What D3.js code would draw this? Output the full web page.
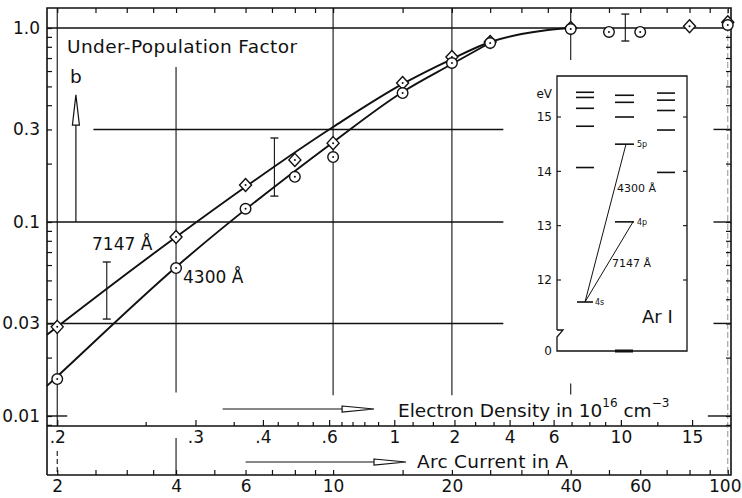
<!DOCTYPE html>
<html>
<head>
<meta charset="utf-8">
<script src="https://cdn.jsdelivr.net/npm/d3@7"></script>
<style>
  html, body { margin: 0; padding: 0; background: #fff; }
  svg { display: block; font-family: "DejaVu Sans", sans-serif; }
</style>
</head>
<body>
<svg id="chart" width="742" height="498"></svg>
<script>
// ---- measured under-population factor b versus arc current (A) ----
const current7147 = [2, 4, 6, 8, 10, 15, 20, 25, 40, 80, 100];
const factor7147  = [0.0288, 0.0837, 0.155, 0.209, 0.255, 0.521, 0.709, 0.847, 1.0, 1.02, 1.07];
const current4300 = [2, 4, 6, 8, 10, 15, 20, 25, 40, 50, 60, 100];
const factor4300  = [0.0155, 0.0579, 0.117, 0.171, 0.216, 0.462, 0.660, 0.837, 0.988, 0.954, 0.954, 1.036];

// ---- smoothed curves through the measurements ----
const fitCurrent7147 = [1.884, 2, 4, 10, 15, 20, 25, 30, 35, 40];
const fitFactor7147  = [0.0262, 0.0288, 0.0837, 0.309, 0.515, 0.692, 0.847, 0.931, 0.977, 1.0];
const fitCurrent4300 = [1.884, 2, 4, 10, 15, 20, 25];
const fitFactor4300  = [0.0143, 0.0160, 0.0586, 0.258, 0.468, 0.652, 0.84];

// ---- representative error bars ----
const errCurrent = [2.67, 7.1, 55];
const errLow     = [0.0316, 0.136, 0.857];
const errHigh    = [0.0622, 0.271, 1.18];

// ---- axes ----
const factorTicks  = [1, 0.3, 0.1, 0.03, 0.01];
const factorLabels = ["1.0", "0.3", "0.1", "0.03", "0.01"];
const currentTicks  = [2, 2.5, 3, 3.5, 4, 5, 6, 7, 8, 9, 10, 15, 20, 25, 30, 35, 40, 50, 60, 70, 80, 90, 100];
const currentLabels = [2, 4, 6, 10, 20, 40, 60, 100];
// electron density (10^16 cm^-3) reached at a given arc current
const densityLabels    = [".2", ".3", ".4", ".6", "1", "2", "4", "6", "10", "15"];
const densityAtCurrent = [2.0, 4.48, 6.64, 9.77, 14.29, 20.3, 28.0, 36.2, 53.6, 81.2];
const densityMinorAtCurrent = [3.35, 5.6, 7.24, 8.13, 8.88, 10.5, 11.2, 12.0, 13.0, 15.9, 17.9, 22.9, 25.5, 32.1, 40.2, 44.6, 48.9, 66.3];

// ---- Ar I term diagram (eV) ----
const levelsCol1 = [15.455, 15.36, 15.16, 14.83, 14.07];
const levelsCol2 = [15.40, 15.27, 15.0, 14.50, 13.07];
const levelsCol3 = [15.44, 15.31, 15.12, 14.76, 13.98];
const level4s = 11.595, level4p = 13.07, level5p = 14.50;
const energyTicks = [12, 13, 14, 15];

const svg = d3.select("#chart");
const ink = "#111";

// frame geometry
const L = 47, R = 731, T = 8, B1 = 426, B2 = 475;

const x = d3.scaleLog().domain([1.884, 101.9]).range([L, R]);
const y = d3.scaleLog().domain([0.00888, 1.268]).range([B1, T]);

const g = svg.append("g").attr("stroke-linecap", "butt");

// ---- frame ----
g.append("path")
  .attr("d", `M${L},${B2}V${T}H${R}V${B2}H${L}M${L},${B1}H${R}`)
  .attr("fill", "none").attr("stroke", ink).attr("stroke-width", 1.6);

// ---- grid lines ----
const hGrid = [
  [1.0, 1.884, 101.9],
  [0.3, 2.47, 27.0], [0.3, 92, 101.9],
  [0.1, 1.884, 27.0], [0.1, 92, 101.9],
  [0.03, 1.884, 27.0], [0.03, 92, 101.9],
  [0.01, 1.884, 2.12], [0.01, 89, 101.9]
];
g.selectAll(".hgrid").data(hGrid).join("line")
  .attr("x1", d => x(d[1])).attr("x2", d => x(d[2]))
  .attr("y1", d => y(d[0])).attr("y2", d => y(d[0]))
  .attr("stroke", ink).attr("stroke-width", 1.4);

const vGrid = [
  [2, 1.268, 0.00888], [4, 0.63, 0.0132], [10, 1.268, 0.0128],
  [20, 1.268, 0.0128], [40, 1.268, 0.684], [40, 0.0147, 0.0129]
];
g.selectAll(".vgrid").data(vGrid).join("line")
  .attr("x1", d => x(d[0])).attr("x2", d => x(d[0]))
  .attr("y1", d => y(d[1])).attr("y2", d => y(d[2]))
  .attr("stroke", ink).attr("stroke-width", 1.1);
// faint rule at 100 A
g.append("line").attr("x1", x(100)).attr("x2", x(100)).attr("y1", T).attr("y2", B2)
  .attr("stroke", "#777").attr("stroke-width", 0.8).attr("stroke-dasharray", "6,3");
// continuation of the grid below the density scale
g.append("line").attr("x1", x(2)).attr("x2", x(2)).attr("y1", 451).attr("y2", B2)
  .attr("stroke", ink).attr("stroke-width", 1.1).attr("stroke-dasharray", "5,3");
g.append("line").attr("x1", x(4)).attr("x2", x(4)).attr("y1", 438).attr("y2", B2)
  .attr("stroke", ink).attr("stroke-width", 1.1);

// ---- axes ----
const labelFor = v => {
  const i = factorTicks.findIndex(t => Math.abs(t - v) / t < 1e-6);
  return i >= 0 ? factorLabels[i] : "";
};
// left: b
const leftAxis = d3.axisLeft(y).tickValues(y.ticks().filter(v => v <= 1))
  .tickSizeInner(-5).tickSizeOuter(0).tickPadding(7)
  .tickFormat(labelFor);
g.append("g").attr("transform", `translate(${L},0)`).call(leftAxis);

// right: mirrored ticks
const rightAxis = d3.axisRight(y).tickValues(y.ticks().filter(v => v <= 1))
  .tickSizeInner(-5).tickSizeOuter(0).tickFormat("");
g.append("g").attr("transform", `translate(${R},0)`).call(rightAxis);

// top: mirrored current ticks
const topAxis = d3.axisTop(x).tickValues(currentTicks).tickSizeInner(-5).tickSizeOuter(0).tickFormat("");
g.append("g").attr("transform", `translate(0,${T})`).call(topAxis);

// electron density scale
const densAxis = d3.axisBottom(x).tickValues(densityAtCurrent)
  .tickSizeInner(-6).tickSizeOuter(0).tickPadding(5)
  .tickFormat((v, i) => densityLabels[i]);
g.append("g").attr("transform", `translate(0,${B1})`).call(densAxis);
const densMinor = d3.axisBottom(x).tickValues(densityMinorAtCurrent)
  .tickSizeInner(-4).tickSizeOuter(0).tickFormat("");
g.append("g").attr("transform", `translate(0,${B1})`).call(densMinor);

// arc current scale
const curAxis = d3.axisBottom(x).tickValues(currentTicks)
  .tickSizeInner(-5).tickSizeOuter(0).tickPadding(5)
  .tickFormat(v => currentLabels.includes(v) ? String(v) : "");
const gc = g.append("g").attr("transform", `translate(0,${B2})`).call(curAxis);

g.selectAll(".domain").remove();
g.selectAll(".tick line").attr("stroke", ink).attr("stroke-width", 1.2);
g.selectAll(".tick text").attr("fill", ink).attr("font-size", 17)
  .attr("font-family", "DejaVu Sans, sans-serif");
// last current label sits flush with the right edge of the sheet
gc.selectAll(".tick text").filter(v => v === 100)
  .attr("text-anchor", "end").attr("x", 741 - x(100));

// ---- curves ----
const line = d3.line().x(d => x(d[0])).y(d => y(d[1])).curve(d3.curveMonotoneX);
g.append("path").datum(fitCurrent7147.map((c, i) => [c, fitFactor7147[i]]))
  .attr("d", line).attr("fill", "none").attr("stroke", ink).attr("stroke-width", 1.9);
g.append("path").datum(fitCurrent4300.map((c, i) => [c, fitFactor4300[i]]))
  .attr("d", line).attr("fill", "none").attr("stroke", ink).attr("stroke-width", 1.9);

// ---- error bars ----
const eb = g.selectAll(".err").data(errCurrent.map((c, i) => [c, errLow[i], errHigh[i]])).join("g");
eb.append("line").attr("x1", d => x(d[0])).attr("x2", d => x(d[0]))
  .attr("y1", d => y(d[1])).attr("y2", d => y(d[2])).attr("stroke", ink).attr("stroke-width", 1.1);
eb.append("line").attr("x1", d => x(d[0]) - 4).attr("x2", d => x(d[0]) + 4)
  .attr("y1", d => y(d[1])).attr("y2", d => y(d[1])).attr("stroke", ink).attr("stroke-width", 1.3);
eb.append("line").attr("x1", d => x(d[0]) - 4).attr("x2", d => x(d[0]) + 4)
  .attr("y1", d => y(d[2])).attr("y2", d => y(d[2])).attr("stroke", ink).attr("stroke-width", 1.3);

// ---- markers ----
const dia = g.selectAll(".dia").data(current7147.map((c, i) => [c, factor7147[i]])).join("g")
  .attr("transform", d => `translate(${x(d[0])},${y(d[1])})`);
dia.append("path").attr("d", "M0,-6.5L6,0L0,6.5L-6,0Z")
  .attr("fill", "#fff").attr("stroke", ink).attr("stroke-width", 1.4);
dia.append("circle").attr("r", 1).attr("fill", ink);

const cir = g.selectAll(".cir").data(current4300.map((c, i) => [c, factor4300[i]])).join("g")
  .attr("transform", d => `translate(${x(d[0])},${y(d[1])})`);
cir.append("circle").attr("r", 5.3).attr("fill", "#fff").attr("stroke", ink).attr("stroke-width", 1.4);
cir.append("circle").attr("r", 1).attr("fill", ink);

// ---- annotations ----
const txt = (s, px, py, size, anchor) => g.append("text").attr("x", px).attr("y", py)
  .attr("font-size", size).attr("fill", ink).attr("text-anchor", anchor || "start").text(s);

txt("Under-Population Factor", 67, 53, 18.5).attr("letter-spacing", 0.4);
txt("b", 70, 83, 18.5);
// upward arrow next to b
const bx = x(2.23);
g.append("line").attr("x1", bx).attr("x2", bx).attr("y1", y(0.1)).attr("y2", y(0.316))
  .attr("stroke", ink).attr("stroke-width", 1.2);
g.append("path").attr("d", `M${bx},${y(0.452)}L${bx + 3.5},${y(0.316)}L${bx - 3.5},${y(0.316)}Z`)
  .attr("fill", "#fff").attr("stroke", ink).attr("stroke-width", 1.2);

txt("7147 Å", 92, 250, 17);
txt("4300 Å", 183, 283, 17);

// axis titles with arrows
function arrow(c0, c1, yy) {
  const x0 = x(c0), x1 = x(c1);
  g.append("line").attr("x1", x0).attr("x2", x1 - 32).attr("y1", yy).attr("y2", yy)
    .attr("stroke", ink).attr("stroke-width", 1.2);
  g.append("path").attr("d", `M${x1 - 32},${yy - 3}L${x1},${yy}L${x1 - 32},${yy + 3}Z`)
    .attr("fill", "#fff").attr("stroke", ink).attr("stroke-width", 1.2);
}
arrow(5.25, 12.7, 409);
arrow(6.0, 15.3, 462);

const et = g.append("text").attr("x", 398).attr("y", 417).attr("font-size", 18.5).attr("fill", ink);
et.append("tspan").text("Electron Density in 10");
et.append("tspan").attr("dy", -10).attr("font-size", 12).text("16");
et.append("tspan").attr("dy", 10).text(" cm");
et.append("tspan").attr("dy", -10).attr("font-size", 12).text("−3");

txt("Arc Current in A", 417, 468, 18.5).attr("letter-spacing", 0.3);

// ---- inset: Ar I term diagram ----
const ins = svg.append("g");
const bx0 = 557, bx1 = 687, by0 = 76, by1 = 351;
const e = d3.scaleLinear().domain([12, 15]).range([280, 117]);
ins.append("rect").attr("x", bx0).attr("y", by0).attr("width", bx1 - bx0).attr("height", by1 - by0)
  .attr("fill", "#fff");
ins.append("path")
  .attr("d", `M${bx0},330V${by0}H${bx1}V${by1}H${bx0}V337L${bx0 + 6},330L${bx0},330`)
  .attr("fill", "none").attr("stroke", ink).attr("stroke-width", 1.3);
ins.selectAll(".etl").data(energyTicks).join("line")
  .attr("x1", bx0).attr("x2", bx0 + 4).attr("y1", d => e(d)).attr("y2", d => e(d))
  .attr("stroke", ink).attr("stroke-width", 1.1);
ins.selectAll(".etr").data(energyTicks).join("line")
  .attr("x1", bx1 - 4).attr("x2", bx1).attr("y1", d => e(d)).attr("y2", d => e(d))
  .attr("stroke", ink).attr("stroke-width", 1.1);
ins.selectAll(".etx").data(energyTicks).join("text")
  .attr("x", 552).attr("y", d => e(d)).attr("dy", "0.35em").attr("text-anchor", "end")
  .attr("font-size", 12).attr("fill", ink).text(d => d);
ins.append("text").attr("x", 552).attr("y", 98).attr("text-anchor", "end")
  .attr("font-size", 12).attr("fill", ink).text("eV");
ins.append("text").attr("x", 552).attr("y", 351).attr("dy", "0.35em").attr("text-anchor", "end")
  .attr("font-size", 12).attr("fill", ink).text("0");

const cols = [[576, 594, levelsCol1], [615, 634, levelsCol2], [657, 675, levelsCol3]];
cols.forEach(([a, b, lv]) => {
  ins.selectAll(null).data(lv).join("line")
    .attr("x1", a).attr("x2", b).attr("y1", d => e(d)).attr("y2", d => e(d))
    .attr("stroke", ink).attr("stroke-width", 1.6);
});
ins.append("line").attr("x1", 577).attr("x2", 593).attr("y1", e(level4s)).attr("y2", e(level4s))
  .attr("stroke", ink).attr("stroke-width", 1.6);
ins.append("line").attr("x1", 615).attr("x2", 633).attr("y1", by1).attr("y2", by1)
  .attr("stroke", ink).attr("stroke-width", 3);

// transitions
ins.append("line").attr("x1", 585).attr("y1", e(level4s)).attr("x2", 626).attr("y2", e(level5p))
  .attr("stroke", ink).attr("stroke-width", 1);
ins.append("line").attr("x1", 585).attr("y1", e(level4s)).attr("x2", 633).attr("y2", e(level4p))
  .attr("stroke", ink).attr("stroke-width", 1);

const small = (s, px, py) => ins.append("text").attr("x", px).attr("y", py).attr("dy", "0.35em")
  .attr("font-size", 8).attr("fill", ink).text(s);
small("4s", 595, e(level4s));
small("5p", 637, e(level5p));
small("4p", 637, e(level4p));
ins.append("text").attr("x", 617).attr("y", 192).attr("font-size", 11).attr("fill", ink).text("4300 Å");
ins.append("text").attr("x", 612).attr("y", 267).attr("font-size", 11).attr("fill", ink).text("7147 Å");
ins.append("text").attr("x", 642).attr("y", 323).attr("font-size", 18).attr("fill", ink).text("Ar I");
</script>
</body>
</html>
